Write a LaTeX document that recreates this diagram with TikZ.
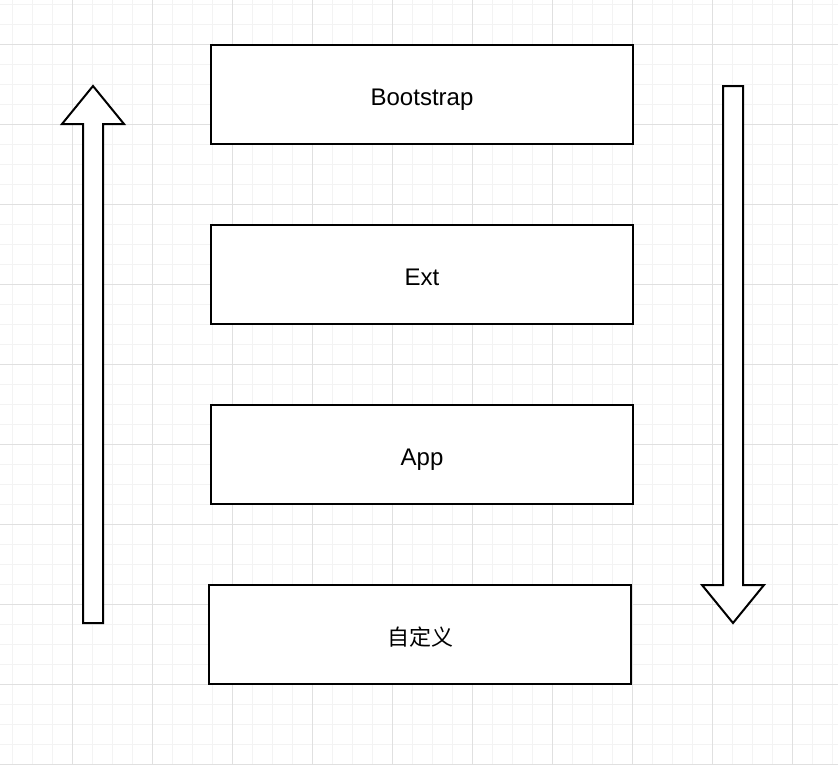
\documentclass[tikz,border=0pt]{standalone}
\usepackage{fontspec}
\setmainfont{Liberation Sans}
\newfontfamily\cjk{Noto Sans CJK SC}
\definecolor{minorgrid}{HTML}{F3F3F3}
\definecolor{majorgrid}{HTML}{E0E0E0}
\begin{document}
\begin{tikzpicture}[x=1pt,y=-1pt,
  layerbox/.style={draw=black,line width=2pt,fill=white,minimum width=422pt,minimum height=99pt,inner sep=0pt,text height=21pt,text depth=0pt,font=\fontsize{24}{28}\selectfont},
  bigarrow/.style={draw=black,line width=2pt,fill=white,line join=miter}]
\useasboundingbox (0,0) rectangle (838,764);
\fill[white] (0,0) rectangle (838,764);
% minor grid
\foreach \x in {12.7,32.7,...,838} \draw[minorgrid,line width=1pt] (\x,0) -- (\x,764);
\foreach \y in {4,24,...,764} \draw[minorgrid,line width=1pt] (0,\y) -- (838,\y);
% major grid
\foreach \x in {72.7,152.7,...,838} \draw[majorgrid,line width=1pt] (\x,0) -- (\x,764);
\foreach \y in {44,124,...,764} \draw[majorgrid,line width=1pt] (0,\y) -- (838,\y);
% boxes
\node[layerbox] (boot) at (422,94.5) {Bootstrap};
\node[layerbox] (ext) at (422,274.5) {Ext};
\node[layerbox] (app) at (422,454.5) {App};
\node[layerbox] (custom) at (420,634.5) {\cjk\fontsize{22}{26}\selectfont 自定义};
% up arrow
\draw[bigarrow] (83,623) -- (83,124) -- (62,124) -- (93,86) -- (124,124) -- (103,124) -- (103,623) -- cycle;
% down arrow
\draw[bigarrow] (723,86) -- (743,86) -- (743,585) -- (764,585) -- (733,623) -- (702,585) -- (723,585) -- cycle;
\end{tikzpicture}
\end{document}
